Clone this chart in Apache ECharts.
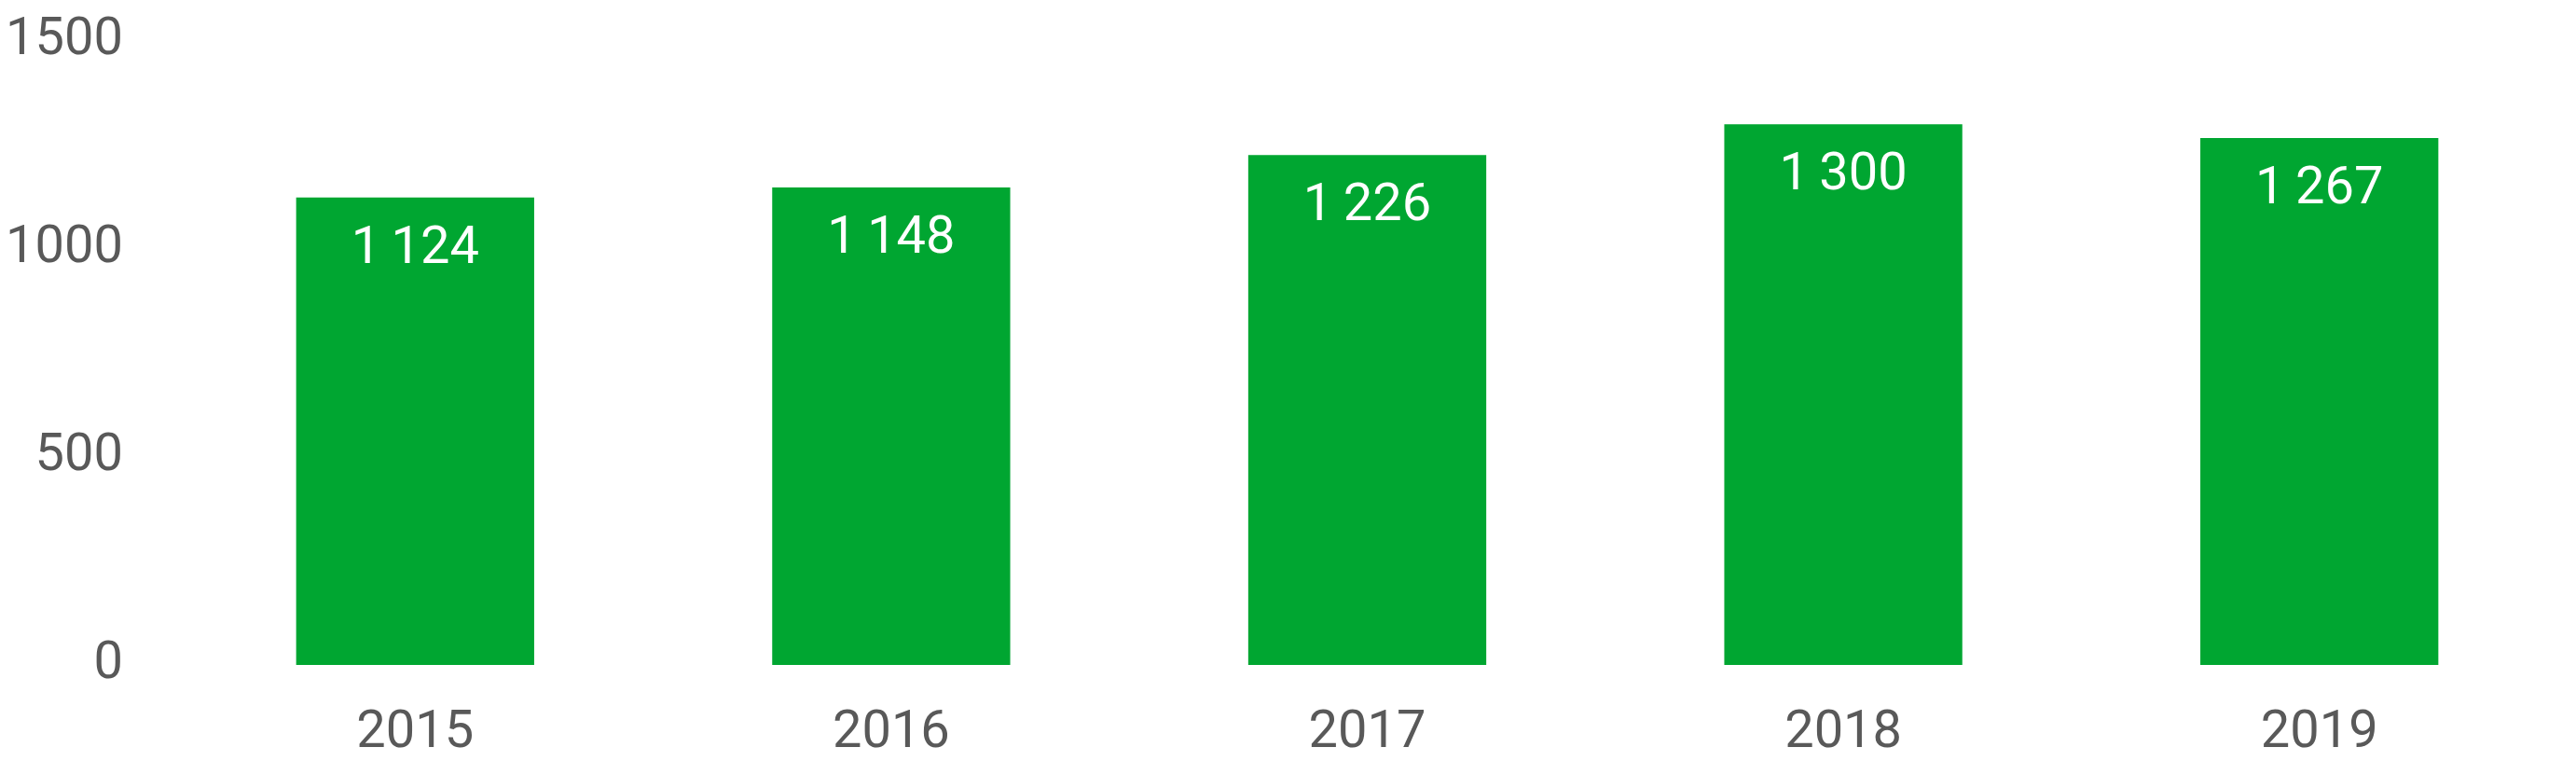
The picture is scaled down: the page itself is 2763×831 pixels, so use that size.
<!DOCTYPE html>
<html>
<head>
<meta charset="utf-8">
<script src="https://cdn.jsdelivr.net/npm/echarts@6/dist/echarts.min.js"></script>
<style>
html,body{margin:0;padding:0;background:#fff;}
#chart{width:2763px;height:831px;}
</style>
</head>
<body>
<div id="chart"></div>
<script>
const categories = ['2015', '2016', '2017', '2018', '2019'];
const values = [1124, 1148, 1226, 1300, 1267];
const yTicks = [0, 500, 1000, 1500];

const chart = echarts.init(document.getElementById('chart'));
const fmt = v => String(v).replace(/\B(?=(\d{3})+(?!\d))/g, '\u2009');
const FONT = 'Roboto';
chart.setOption({
  animation: false,
  grid: {left: 190, right: 20, top: 44, bottom: 118, containLabel: false},
  xAxis: {
    type: 'category',
    data: categories,
    axisLine: {show: false},
    axisTick: {show: false},
    axisLabel: {color: '#595959', fontSize: 56, fontFamily: FONT, margin: 46}
  },
  yAxis: {
    type: 'value',
    min: yTicks[0],
    max: yTicks[yTicks.length - 1],
    interval: yTicks[1] - yTicks[0],
    splitLine: {show: false},
    axisLine: {show: false},
    axisTick: {show: false},
    axisLabel: {color: '#595959', fontSize: 56, fontFamily: FONT, margin: 58, padding: [12, 0, 0, 0], formatter: v => String(v)}
  },
  series: [{
    type: 'bar',
    data: values,
    barWidth: '50%',
    itemStyle: {color: '#00A631'},
    label: {
      show: true,
      position: 'insideTop',
      distance: 28,
      color: '#ffffff',
      fontSize: 56,
      fontFamily: FONT,
      formatter: p => fmt(p.value)
    }
  }]
});
</script>
</body>
</html>
